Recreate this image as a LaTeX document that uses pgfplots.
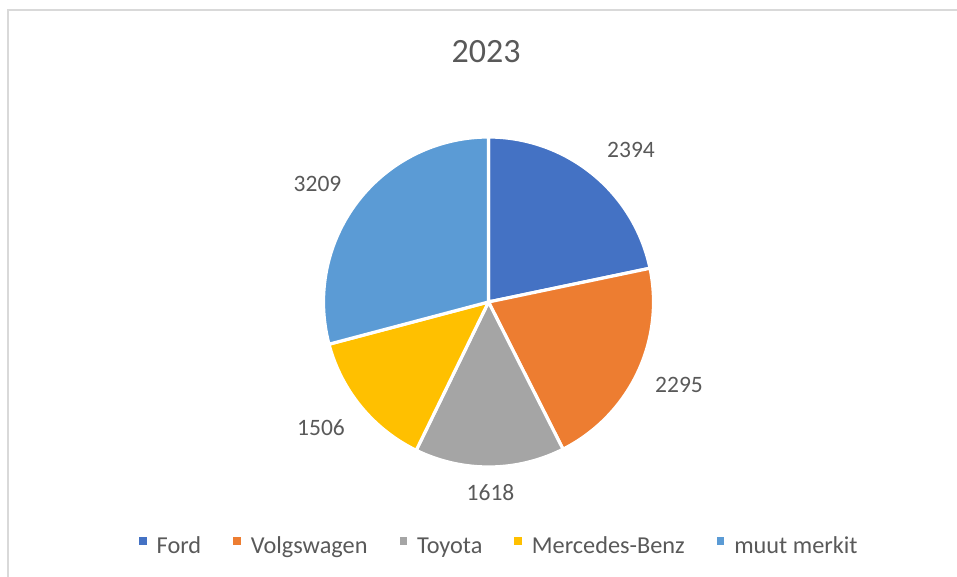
\documentclass[border=0pt]{standalone}
\usepackage{pgfplots}
\pgfplotsset{compat=1.18}
\usepackage{pgfplotstable}
\usepackage{fontspec}
\setmainfont{Carlito}
\definecolor{cFord}{HTML}{4472C4}
\definecolor{cVW}{HTML}{ED7D31}
\definecolor{cToy}{HTML}{A5A5A5}
\definecolor{cMB}{HTML}{FFC000}
\definecolor{cMuut}{HTML}{5B9BD5}
\definecolor{txt}{HTML}{595959}
\definecolor{framec}{HTML}{D9D9D9}

\pgfplotstableread{
brand value
Ford 2394
Volgswagen 2295
Toyota 1618
Mercedes-Benz 1506
muut 3209
}\datatable

\newcommand\getval[2]{\pgfplotstablegetelem{#1}{value}\of\datatable\edef#2{\pgfplotsretval}}
\getval{0}\vA
\getval{1}\vB
\getval{2}\vC
\getval{3}\vD
\getval{4}\vE
\pgfmathsetmacro\total{\vA+\vB+\vC+\vD+\vE}
\pgfmathsetmacro\aA{90}
\pgfmathsetmacro\aB{\aA-360*(\vA/\total)}
\pgfmathsetmacro\aC{\aB-360*(\vB/\total)}
\pgfmathsetmacro\aD{\aC-360*(\vC/\total)}
\pgfmathsetmacro\aE{\aD-360*(\vD/\total)}
\pgfmathsetmacro\aF{\aE-360*(\vE/\total)}
\def\cx{488.5}
\def\cy{275}
\def\R{165}

\begin{document}%
\begin{tikzpicture}
\begin{axis}[
  at={(0,0)}, anchor=south west,
  scale only axis, width=957pt, height=577pt,
  xmin=0, xmax=957, ymin=0, ymax=577,
  hide axis, clip=false,
  legend image code/.code={\path[draw=none,fill] (0pt,1pt) rectangle (7.5pt,8.5pt);},
  legend columns=5,
  legend style={at={(axis cs:139,31)}, anchor=west, draw=none, fill=none,
    inner sep=0pt, font=\fontsize{24.3}{29}\selectfont, text=txt,
    nodes={inner sep=0pt},
    /tikz/every odd column/.append style={column sep=10pt},
    /tikz/every even column/.append style={column sep=32pt}},
]
\addplot[fill=cFord, draw=white, line width=3.2pt, domain=\aB:\aA, samples=80, variable=\t]
  ({\cx+\R*cos(\t)}, {\cy+\R*sin(\t)}) -- (axis cs:\cx,\cy) -- cycle;
\addlegendentry{Ford}
\addplot[fill=cVW, draw=white, line width=3.2pt, domain=\aC:\aB, samples=80, variable=\t]
  ({\cx+\R*cos(\t)}, {\cy+\R*sin(\t)}) -- (axis cs:\cx,\cy) -- cycle;
\addlegendentry{Volgswagen}
\addplot[fill=cToy, draw=white, line width=3.2pt, domain=\aD:\aC, samples=80, variable=\t]
  ({\cx+\R*cos(\t)}, {\cy+\R*sin(\t)}) -- (axis cs:\cx,\cy) -- cycle;
\addlegendentry{Toyota}
\addplot[fill=cMB, draw=white, line width=3.2pt, domain=\aE:\aD, samples=80, variable=\t]
  ({\cx+\R*cos(\t)}, {\cy+\R*sin(\t)}) -- (axis cs:\cx,\cy) -- cycle;
\addlegendentry{Mercedes-Benz}
\addplot[fill=cMuut, draw=white, line width=3.2pt, domain=\aF:\aE, samples=100, variable=\t]
  ({\cx+\R*cos(\t)}, {\cy+\R*sin(\t)}) -- (axis cs:\cx,\cy) -- cycle;
\addlegendentry{muut merkit}
\draw[framec, line width=1.3pt] (axis cs:957,567) -- (axis cs:8,567) -- (axis cs:8,0);
\node[font=\fontsize{34}{40}\selectfont, text=txt] at (axis cs:486,525.3) {2023};
\begin{scope}[every node/.style={font=\fontsize{23.5}{28}\selectfont, text=txt}]
\node at (axis cs:631,427) {2394};
\node at (axis cs:679,192) {2295};
\node at (axis cs:490.5,84) {1618};
\node at (axis cs:321,149) {1506};
\node at (axis cs:317.5,393) {3209};
\end{scope}
\end{axis}
\pgfresetboundingbox
\path (0,0) rectangle (957pt,577pt);
\end{tikzpicture}%
\end{document}
